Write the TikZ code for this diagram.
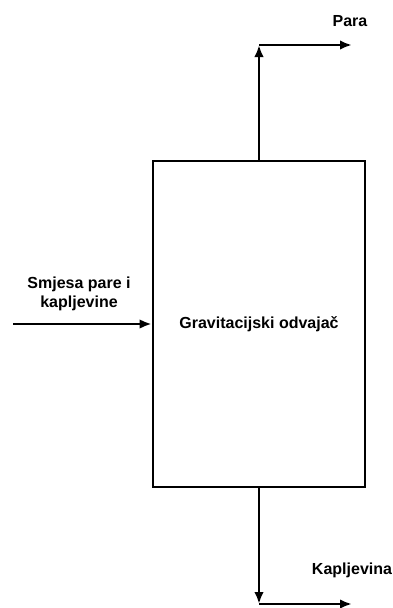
\documentclass[tikz,border=0pt]{standalone}
\usepackage{fontspec}
\setmainfont{Liberation Sans}
\usetikzlibrary{arrows.meta}
\begin{document}
\begin{tikzpicture}[x=1pt,y=-1pt,
  lbl/.style={font=\fontsize{16}{19}\selectfont\bfseries, inner sep=0pt},
  unit/.style={draw, line width=2.7pt, minimum width=212pt, minimum height=326pt,
    font=\fontsize{16}{19}\selectfont\bfseries, inner sep=0pt},
  flow/.style={line width=2.7pt, -{Latex[length=12pt,width=9.5pt]}}]
\useasboundingbox (0,0) rectangle (393,608);
% separator vessel
\node[unit] (sep) at (259,324) {Gravitacijski odvajač};
% turning points of the outlet lines
\coordinate (vapturn) at (259,45);
\coordinate (vapout) at (352,45);
\coordinate (liqturn) at (259,604);
\coordinate (liqout) at (352,604);
\coordinate (feedin) at (13,324);
% stream labels
\node[lbl, anchor=base] (vaplbl) at (350,26.5) {Para};
\node[lbl, anchor=base] (liqlbl) at (352,574) {Kapljevina};
\node[lbl, align=center] (feedlbl) at (79,293.5) {Smjesa pare i\\kapljevine};
% streams
\draw[flow] (feedin) -- (sep.west);
\draw[flow] (sep.north) -- (vapturn);
\draw[flow] (vapturn) -- (vapout);
\draw[flow] (sep.south) -- (liqturn);
\draw[flow] (liqturn) -- (liqout);
\end{tikzpicture}
\end{document}
